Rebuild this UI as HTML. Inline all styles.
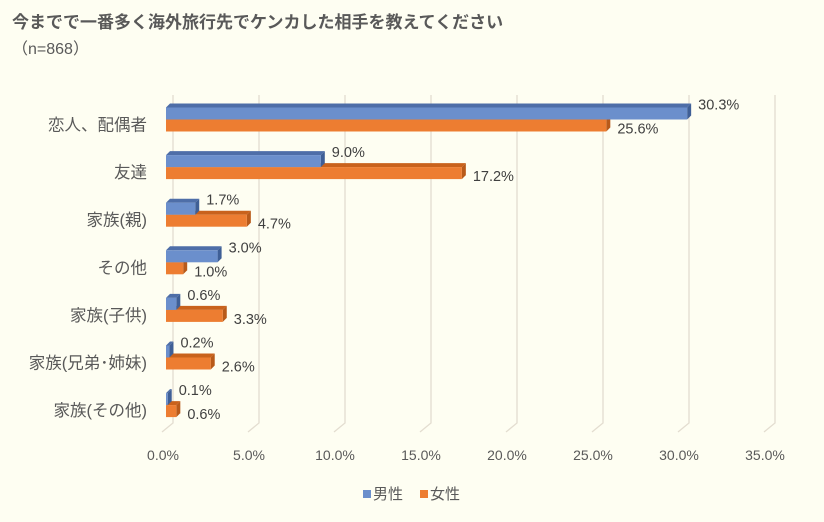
<!DOCTYPE html>
<html><head><meta charset="utf-8"><style>
body{margin:0;background:#fefef2;}
svg{display:block;font-family:"Liberation Sans","Noto Sans CJK JP",sans-serif;}
</style></head><body>
<svg width="824" height="522">
<rect width="824" height="522" fill="#fefef2"/>
<text x="12" y="28" font-size="17" font-weight="bold" fill="#595959">今までで一番多く海外旅行先でケンカした相手を教えてください</text>
<text x="12" y="54" font-size="16" fill="#595959">（n=868）</text>
<g id="grid"></g><g id="bars"></g><g id="labels"></g>
<g>
<rect x="363" y="490" width="8" height="8" fill="#6b8fcc"/>
<text x="373" y="499" font-size="15" fill="#595959">男性</text>
<rect x="420" y="490" width="8" height="8" fill="#ed7d31"/>
<text x="430" y="499" font-size="15" fill="#595959">女性</text>
</g>
</svg>
<script>
const categories=["恋人、配偶者","友達","家族(親)","その他","家族(子供)","家族(兄弟･姉妹)","家族(その他)"];
const male=[30.3,9.0,1.7,3.0,0.6,0.2,0.1];
const female=[25.6,17.2,4.7,1.0,3.3,2.6,0.6];
const ticks=[0,5,10,15,20,25,30,35];
const NS="http://www.w3.org/2000/svg";
const x0=166,pp=17.2,D=4,GD=7,bh=12,step=47.6,top0=119.5;
const X=v=>x0+v*pp;
function mk(tag,attrs,parent,txt){const e=document.createElementNS(NS,tag);for(const k in attrs)e.setAttribute(k,attrs[k]);if(txt!==undefined)e.textContent=txt;document.getElementById(parent).appendChild(e);return e;}
ticks.forEach(t=>{
 const gx=X(t)+GD;
 const l=mk('polyline',{points:`${gx},95 ${gx},423 ${gx-11},432`,fill:'none',stroke:'#e3ddd0','stroke-width':1.3},'grid');
 
 
 const tx=mk('text',{x:gx-10,y:460,'font-size':14,fill:'#595959','text-anchor':'middle'},'labels',t.toFixed(1)+'%');
 
 
});
function bar(v,y,front,topc,side,name){
 const x1=X(v);
 const g=mk('g',{},'bars');
 
 
 const a=document.createElementNS(NS,'polygon');a.setAttribute('points',`${x0},${y} ${x0+D},${y-D} ${x1+D},${y-D} ${x1},${y}`);a.setAttribute('fill',topc);g.appendChild(a);
 const b=document.createElementNS(NS,'polygon');b.setAttribute('points',`${x1},${y} ${x1+D},${y-D} ${x1+D},${y+bh-D} ${x1},${y+bh}`);b.setAttribute('fill',side);g.appendChild(b);
 const c=document.createElementNS(NS,'rect');c.setAttribute('x',x0);c.setAttribute('y',y);c.setAttribute('width',x1-x0);c.setAttribute('height',bh);c.setAttribute('fill',front);g.appendChild(c);
}
categories.forEach((c,i)=>{
 const yo=top0+i*step, yb=yo-bh;
 bar(female[i],yo,'#ed7d31','#c9621c','#b85a1a','bar-female');
 bar(male[i],yb,'#6b8fcc','#4e6ea8','#3f5f96','bar-male');
 const lm=mk('text',{x:X(male[i])+D+7,y:yb+2,'font-size':14.5,fill:'#404040'},'labels',male[i].toFixed(1)+'%');
 
 
 const lf=mk('text',{x:X(female[i])+D+7,y:yo+14,'font-size':14.5,fill:'#404040'},'labels',female[i].toFixed(1)+'%');
 
 
 const cl=mk('text',{x:147,y:yo+11,'font-size':16.5,fill:'#595959','text-anchor':'end'},'labels',c);
 
 
});
</script>
</body></html>
